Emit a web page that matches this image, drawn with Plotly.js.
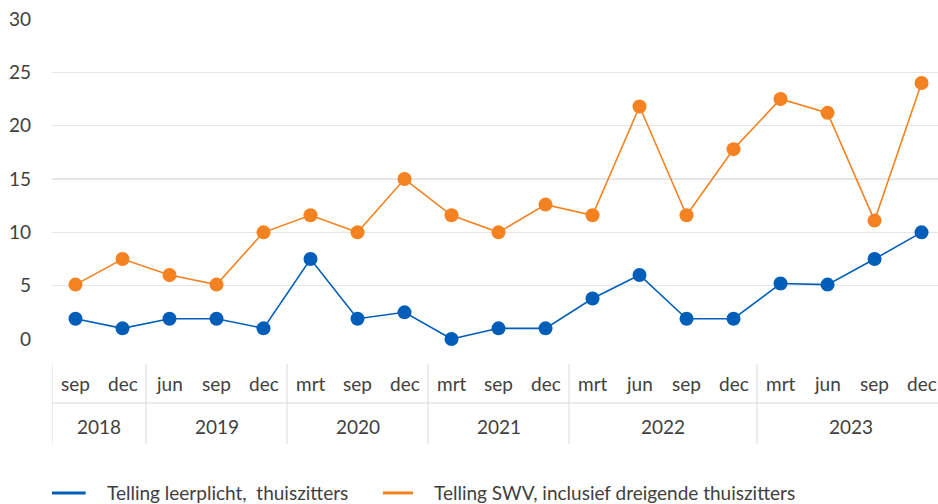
<!DOCTYPE html>
<html>
<head>
<meta charset="utf-8">
<script src="https://cdn.plot.ly/plotly-3.0.1.min.js"></script>
<style>html,body{margin:0;padding:0;background:#fff}#chart{width:938px;height:504px}</style>
</head>
<body>
<div id="chart"></div>
<script>
const months = ["sep","dec","jun","sep","dec","mrt","sep","dec","mrt","sep","dec","mrt","jun","sep","dec","mrt","jun","sep","dec"];
const years = ["2018","2019","2020","2021","2022","2023"];
const yearCounts = [2,3,3,3,4,4];
const leerplicht = [1.9,1,1.9,1.9,1,7.5,1.9,2.5,0,1,1,3.8,6,1.9,1.9,5.2,5.1,7.5,10];
const swv = [5.1,7.5,6,5.1,10,11.6,10,15,11.6,10,12.6,11.6,21.8,11.6,17.8,22.5,21.2,11.1,24];
const seriesNames = ["Telling leerplicht,\u00a0 thuiszitters","Telling SWV, inclusief dreigende thuiszitters"];
const seriesColors = ["#005EB8","#F58220"];

const FONT = "Lato, 'Open Sans', sans-serif";
const FS = 19;
const TXT = "#404040";
const idx = months.map((m,i)=>i);

const traces = [leerplicht, swv].map((vals,k)=>({
  x: idx, y: vals, name: seriesNames[k], type: "scatter", mode: "lines+markers",
  line: {color: seriesColors[k], width: 1.6}, marker: {color: seriesColors[k], size: 14},
  cliponaxis: false, showlegend: false
}));

const annotations = [];
const shapes = [];
const divColor = "#d9d9d9";
months.forEach((m,i)=>{
  annotations.push({x: i, y: -0.1375, xref: "x", yref: "paper", text: m, showarrow: false,
    font: {family: FONT, size: FS, color: TXT}, xanchor: "center", yanchor: "middle"});
});
let start = 0;
years.forEach((yr,k)=>{
  const n = yearCounts[k];
  const center = start + (n-1)/2;
  annotations.push({x: center, y: -0.272, xref: "x", yref: "paper", text: yr, showarrow: false,
    font: {family: FONT, size: FS, color: TXT}, xanchor: "center", yanchor: "middle"});
  shapes.push({type: "line", xref: "x", yref: "paper", x0: start-0.5, x1: start-0.5, y0: -0.078, y1: -0.328,
    line: {color: divColor, width: 1}});
  start += n;
});
shapes.push({type: "line", xref: "x", yref: "paper", x0: -0.5, x1: months.length-0.5, y0: -0.2, y1: -0.2,
  line: {color: divColor, width: 1}});

// legend (bottom), paper coordinates
const legY = -0.481;
const legItems = [{lx0: 0.0, lx1: 0.038, tx: 0.0595}, {lx0: 0.3735, lx1: 0.4075, tx: 0.4285}];
legItems.forEach((it,k)=>{
  shapes.push({type: "line", xref: "paper", yref: "paper", x0: it.lx0, x1: it.lx1, y0: legY, y1: legY,
    line: {color: seriesColors[k], width: 3}});
  annotations.push({x: it.tx, y: legY, xref: "paper", yref: "paper", text: seriesNames[k], showarrow: false,
    font: {family: FONT, size: FS, color: TXT}, xanchor: "left", yanchor: "middle"});
});

const layout = {
  width: 938, height: 504,
  margin: {l: 52, r: 0, t: 19, b: 165, autoexpand: false},
  paper_bgcolor: "#fff", plot_bgcolor: "#fff",
  font: {family: FONT, size: FS, color: TXT},
  xaxis: {range: [-0.5, 18.35], showgrid: false, zeroline: false, showticklabels: false, showline: false, fixedrange: true},
  yaxis: {range: [0, 30], tickvals: [0,5,10,15,20,25,30], showgrid: true, gridcolor: "#e6e6e6", gridwidth: 1.5,
    zeroline: false, showline: false, ticks: "", ticklabelstandoff: 20,
    tickfont: {family: FONT, size: FS, color: TXT}},
  showlegend: false,
  annotations: annotations,
  shapes: shapes
};
Plotly.newPlot("chart", traces, layout, {displayModeBar: false, staticPlot: true});
</script>
</body>
</html>
